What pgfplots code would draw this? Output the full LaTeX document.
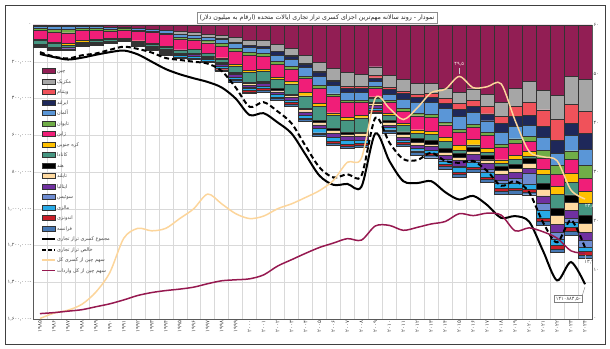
\documentclass[border=0pt]{standalone}
\usepackage{fontspec}
\usepackage{pgfplots}
\usepackage{pgfplotstable}
\pgfplotsset{compat=1.18}
\setmainfont{DejaVu Sans}
\newfontfamily\fa[Script=Arabic]{DejaVu Sans}
\TeXXeTstate=1
\definecolor{cChina}{RGB}{146,30,84}
\definecolor{cMexico}{RGB}{166,166,166}
\definecolor{cVietnam}{RGB}{240,82,90}
\definecolor{cIreland}{RGB}{30,40,90}
\definecolor{cGermany}{RGB}{90,150,215}
\definecolor{cTaiwan}{RGB}{112,173,71}
\definecolor{cJapan}{RGB}{240,30,120}
\definecolor{cKorea}{RGB}{255,192,0}
\definecolor{cCanada}{RGB}{70,150,130}
\definecolor{cIndia}{RGB}{0,0,0}
\definecolor{cThailand}{RGB}{255,218,160}
\definecolor{cItaly}{RGB}{112,48,160}
\definecolor{cSwiss}{RGB}{110,140,210}
\definecolor{cMalaysia}{RGB}{40,170,230}
\definecolor{cIndonesia}{RGB}{200,30,40}
\definecolor{cFrance}{RGB}{70,120,180}
\definecolor{cPeach}{RGB}{252,213,155}
\definecolor{cMaroonL}{RGB}{150,25,80}
\definecolor{cTxt}{RGB}{70,70,70}
\pgfplotsset{
 barleg/.style={legend image code/.code={\draw[##1] (0bp,-2.6bp) rectangle (13bp,2.6bp);}},
 lineleg/.style={legend image code/.code={\draw[##1] (0bp,0bp) -- (13bp,0bp);}},
 basepos/.style={at={(33bp,30bp)}, anchor=south west, scale only axis, width=559bp, height=294bp, xmin=1984.5, xmax=2024.5},
}
% deficits in million dollars (negative), shares in percent
\pgfplotstableread{
yr chn mex vnm irl deu twn jpn kor can ind tha ita che mys idn fra sum net shd shi
1985 -6 -5500 0 0 -12200 -13100 -46200 -4800 -22200 -500 -1000 -5700 0 -1000 -3600 -3900 -158000 -148000 0.1 1.1
1986 -1700 -4900 0 0 -15600 -15700 -55000 -7100 -23300 -700 -900 -6600 0 -1000 -2800 -3400 -175000 -172000 1.2 1.3
1987 -2800 -5700 0 0 -16300 -17200 -56300 -9900 -11700 -1300 -1300 -6700 0 -1300 -2900 -3300 -188000 -182000 1.8 1.6
1988 -3500 -2600 0 0 -12200 -12600 -52100 -8700 -9900 -800 -2200 -5300 0 -2000 -2200 -2800 -178000 -165000 3.0 1.9
1989 -6200 -2200 0 0 -8300 -13000 -49100 -6300 -9600 -600 -2300 -5000 0 -2000 -2300 -1600 -162000 -155000 5.5 2.5
1990 -10400 -1900 0 0 -9400 -11200 -41100 -4100 -7700 -700 -2400 -4600 0 -1700 -1400 -300 -148000 -135000 9.5 3.1
1991 -12700 0 0 0 -4900 -9800 -43400 -1500 -6000 -1000 -3000 -3000 0 -2200 -1900 0 -139000 -118000 16.5 3.9
1992 -18300 0 0 0 -8300 -9300 -49600 -2000 -8000 -1900 -4500 -3900 0 -4400 -2500 0 -160000 -130000 18.5 4.8
1993 -22800 0 0 0 -9400 -8900 -59400 -2300 -10800 -2500 -4800 -6500 0 -6000 -3100 -2000 -200000 -150000 18.0 5.4
1994 -29500 0 0 -400 -12500 -9600 -65700 -1000 -13900 -2900 -5500 -7700 0 -7000 -3700 -2900 -240000 -180000 18.5 5.8
1995 -33800 -15800 0 -700 -15500 -9700 -59100 0 -17100 -2600 -4800 -7600 0 -8900 -3600 -3000 -268000 -190000 20.5 6.1
1996 -39500 -17500 0 -700 -15500 -11500 -47600 0 -21700 -2700 -4600 -9500 0 -9400 -4000 -4000 -290000 -200000 22.5 6.5
1997 -49700 -14500 -100 -1000 -18700 -12300 -56100 0 -16400 -3600 -5500 -10400 0 -7600 -4700 -4400 -310000 -210000 25.5 7.2
1998 -56900 -15900 -300 -2700 -23200 -15000 -64000 -7500 -16600 -4700 -8200 -11500 0 -10000 -7000 -6000 -340000 -250000 23.5 7.8
1999 -68700 -22800 -300 -5400 -28100 -16100 -73400 -8200 -32100 -5400 -9300 -13000 0 -12400 -7600 -6800 -400000 -340000 21.5 8.0
2000 -83800 -24600 -500 -10000 -29100 -16100 -81600 -12500 -51900 -7000 -9800 -14000 -400 -14600 -8000 -9400 -490000 -445000 20.5 8.2
2001 -83100 -30000 -600 -11800 -29000 -15200 -69000 -13000 -53000 -5900 -8700 -13900 0 -13000 -7600 -10500 -480000 -420000 21.0 9.0
2002 -103100 -37200 -1900 -20000 -35900 -13800 -70100 -13000 -49900 -8200 -9900 -14200 -1700 -13700 -7000 -9400 -530000 -470000 22.5 10.8
2003 -124100 -40600 -3300 -18800 -39200 -14200 -66000 -13200 -54900 -8300 -9300 -15500 -700 -14500 -7000 -12200 -590000 -535000 23.5 12.1
2004 -162300 -45100 -3900 -19300 -45800 -12900 -75600 -19800 -66500 -9400 -11200 -17300 0 -17300 -8100 -10800 -705000 -658000 24.8 13.4
2005 -202300 -49700 -5400 -21200 -50600 -13100 -82700 -16100 -78500 -10800 -12400 -19500 -600 -23300 -9000 -11500 -820000 -775000 26.2 14.6
2006 -234100 -64100 -7100 -20600 -47900 -15200 -88400 -13600 -71800 -11600 -14000 -20000 0 -24100 -10100 -13600 -870000 -830000 28.3 15.5
2007 -258500 -74800 -8700 -22500 -44700 -11900 -82800 -13200 -68200 -6900 -13300 -20700 0 -21000 -10400 -14900 -865000 -812000 32.0 16.4
2008 -268000 -64700 -10700 -21100 -43000 -11400 -72300 -13400 -78300 -7600 -13600 -20900 0 -17600 -10400 -14600 -880000 -820000 32.8 16.1
2009 -226900 -47800 -12000 -20300 -28300 -10200 -44700 -10600 -21600 -4400 -11700 -14300 0 -12300 -9500 -7700 -590000 -505000 45.1 19.0
2010 -273000 -66500 -11100 -26400 -34300 -9900 -60100 -10000 -28800 -10300 -13700 -14300 0 -11600 -9600 -11500 -740000 -640000 43.0 19.1
2011 -295300 -65000 -13100 -31400 -49900 -15200 -63200 -13100 -34500 -14500 -14300 -16300 0 -11600 -11100 -12100 -850000 -730000 40.7 18.1
2012 -315100 -61400 -15600 -26500 -59700 -15300 -76300 -16600 -32100 -18700 -14600 -19500 0 -12700 -10500 -11600 -860000 -735000 43.1 18.7
2013 -318700 -54400 -20000 -26800 -67400 -14900 -73400 -20700 -30200 -20000 -14800 -20800 0 -16400 -9700 -13900 -850000 -695000 46.2 19.4
2014 -344800 -53800 -24700 -30500 -73700 -15000 -67000 -25000 -34200 -23100 -15100 -25300 -8500 -17000 -11000 -15600 -910000 -740000 46.9 19.9
2015 -367300 -60200 -31000 -35900 -74200 -15100 -68600 -28300 -15000 -23300 -18700 -28400 -9800 -24000 -12700 -17300 -950000 -750000 49.5 21.5
2016 -346800 -62300 -32000 -35900 -64700 -13300 -68900 -27700 -10900 -24300 -18900 -28600 -13800 -24800 -13100 -15700 -930000 -740000 47.2 21.1
2017 -375200 -69100 -38300 -38100 -63700 -16700 -68800 -22900 -17600 -22900 -20400 -31600 -17200 -24600 -13300 -15700 -980000 -795000 47.4 21.6
2018 -418200 -77700 -39500 -46700 -67900 -15600 -67700 -17900 -19700 -21300 -19300 -31600 -20100 -26500 -12600 -16200 -1050000 -875000 48.0 21.2
2019 -342600 -99400 -55800 -54000 -67200 -23000 -69000 -20900 -26700 -23300 -20000 -33600 -26300 -26900 -12000 -20900 -1040000 -850000 40.5 18.0
2020 -308000 -112700 -69700 -55500 -57300 -29900 -55400 -25100 -12600 -24200 -26500 -30200 -57300 -31300 -12500 -15500 -1070000 -910000 34.2 18.6
2021 -352800 -108300 -90900 -60300 -70100 -40600 -60200 -29500 -49000 -33100 -34400 -40200 -40600 -40800 -17300 -20900 -1230000 -1075000 33.1 17.8
2022 -382300 -130600 -116100 -66500 -67500 -47800 -67900 -43500 -76300 -38400 -48000 -43500 -35400 -36500 -21800 -16600 -1390000 -1183000 32.3 16.5
2023 -279100 -152400 -104600 -65300 -82900 -48300 -71600 -51400 -67900 -43300 -40700 -44000 -24100 -26600 -17800 -22600 -1290000 -1062000 26.3 13.9
2024 -295400 -171800 -123500 -86700 -84800 -73900 -68500 -66000 -63300 -45700 -45600 -44000 -38500 -24800 -17900 -17200 -1410884.5 -1211700 24.5 13.4
}\data
\begin{document}
\begin{tikzpicture}
\useasboundingbox (0bp,0bp) rectangle (610bp,349bp);
\draw[black!75, line width=0.9bp] (5bp,5bp) rectangle (605bp,344bp);
% main axis: stacked bars
\begin{axis}[basepos,
  ymin=-1600000, ymax=0,
  ybar stacked, bar width=1,
  xtick={1985,...,2024},
  xticklabels={۱۹۸۵,۱۹۸۶,۱۹۸۷,۱۹۸۸,۱۹۸۹,۱۹۹۰,۱۹۹۱,۱۹۹۲,۱۹۹۳,۱۹۹۴,۱۹۹۵,۱۹۹۶,۱۹۹۷,۱۹۹۸,۱۹۹۹,۲۰۰۰,۲۰۰۱,۲۰۰۲,۲۰۰۳,۲۰۰۴,۲۰۰۵,۲۰۰۶,۲۰۰۷,۲۰۰۸,۲۰۰۹,۲۰۱۰,۲۰۱۱,۲۰۱۲,۲۰۱۳,۲۰۱۴,۲۰۱۵,۲۰۱۶,۲۰۱۷,۲۰۱۸,۲۰۱۹,۲۰۲۰,۲۰۲۱,۲۰۲۲,۲۰۲۳,۲۰۲۴},
  xticklabel style={font=\fa\fontsize{5.5}{6}\selectfont, text=cTxt, rotate=90, anchor=east, inner sep=1.5bp},
  minor xtick={1985.5,1986.5,...,2023.5},
  xminorgrids, minor x grid style={black!15, line width=0.4bp},
  ytick={-1600000,-1400000,-1200000,-1000000,-800000,-600000,-400000,-200000,0},
  yticklabels={{-۱,۶۰۰,۰۰۰},{-۱,۴۰۰,۰۰۰},{-۱,۲۰۰,۰۰۰},{-۱,۰۰۰,۰۰۰},{-۸۰۰,۰۰۰},{-۶۰۰,۰۰۰},{-۴۰۰,۰۰۰},{-۲۰۰,۰۰۰},{۰}},
  yticklabel style={font=\fa\fontsize{5}{6}\selectfont, text=cTxt, inner sep=1.5bp},
  scaled y ticks=false,
  ymajorgrids, major grid style={black!15, line width=0.4bp},
  major tick length=0pt, minor tick length=0pt,
  axis line style={black!65, line width=0.6bp},
  legend cell align=left,
  legend style={at={(rel axis cs:0.014,0.856)}, anchor=north west, draw=none, fill=none,
    font=\fa\fontsize{5}{6}\selectfont, text=cTxt, row sep=3.5bp, inner sep=0pt,
    nodes={text height=4bp, text depth=1bp, inner sep=1bp}},
  every axis plot/.append style={draw=black!80, line width=0.35bp},
]
\addplot[fill=cChina, barleg] table[x=yr,y=chn]{\data}; \addlegendentry{\beginR چین\endR}
\addplot[fill=cMexico, barleg] table[x=yr,y=mex]{\data}; \addlegendentry{\beginR مکزیک\endR}
\addplot[fill=cVietnam, barleg] table[x=yr,y=vnm]{\data}; \addlegendentry{\beginR ویتنام\endR}
\addplot[fill=cIreland, barleg] table[x=yr,y=irl]{\data}; \addlegendentry{\beginR ایرلند\endR}
\addplot[fill=cGermany, barleg] table[x=yr,y=deu]{\data}; \addlegendentry{\beginR آلمان\endR}
\addplot[fill=cTaiwan, barleg] table[x=yr,y=twn]{\data}; \addlegendentry{\beginR تایوان\endR}
\addplot[fill=cJapan, barleg] table[x=yr,y=jpn]{\data}; \addlegendentry{\beginR ژاپن\endR}
\addplot[fill=cKorea, barleg] table[x=yr,y=kor]{\data}; \addlegendentry{\beginR کره جنوبی\endR}
\addplot[fill=cCanada, barleg] table[x=yr,y=can]{\data}; \addlegendentry{\beginR کانادا\endR}
\addplot[fill=cIndia, barleg] table[x=yr,y=ind]{\data}; \addlegendentry{\beginR هند\endR}
\addplot[fill=cThailand, barleg] table[x=yr,y=tha]{\data}; \addlegendentry{\beginR تایلند\endR}
\addplot[fill=cItaly, barleg] table[x=yr,y=ita]{\data}; \addlegendentry{\beginR ایتالیا\endR}
\addplot[fill=cSwiss, barleg] table[x=yr,y=che]{\data}; \addlegendentry{\beginR سوئیس\endR}
\addplot[fill=cMalaysia, barleg] table[x=yr,y=mys]{\data}; \addlegendentry{\beginR مالزی\endR}
\addplot[fill=cIndonesia, barleg] table[x=yr,y=idn]{\data}; \addlegendentry{\beginR اندونزی\endR}
\addplot[fill=cFrance, barleg] table[x=yr,y=fra]{\data}; \addlegendentry{\beginR فرانسه\endR}
\addlegendimage{lineleg, black, line width=2bp}
\addlegendentry{\beginR مجموع کسری تراز تجاری\endR}
\addlegendimage{lineleg, black, line width=2bp, dash pattern=on 4bp off 2bp}
\addlegendentry{\beginR خالص تراز تجاری\endR}
\addlegendimage{lineleg, cPeach, line width=1.5bp}
\addlegendentry{\beginR سهم چین از کسری کل\endR}
\addlegendimage{lineleg, cMaroonL, line width=1.5bp}
\addlegendentry{\beginR سهم چین از کل واردات\endR}
\end{axis}
% black lines
\begin{axis}[basepos, ymin=-1600000, ymax=0, hide axis]
\addplot[black, line width=2bp, smooth, tension=0.5] table[x=yr,y=sum]{\data};
\addplot[black, line width=2bp, smooth, tension=0.5, dash pattern=on 5bp off 3bp] table[x=yr,y=net]{\data};
\node[draw=black!50, fill=white, inner sep=1.5bp, font=\fa\fontsize{5}{6}\selectfont, text=cTxt] (lbl) at (axis cs:2022.8,-1490000) {-۱۴۱۰۸۸۴,۵};
\draw[black!50, line width=0.4bp] (lbl.north east) -- (axis cs:2024,-1425000);
\end{axis}
% right axis: shares
\begin{axis}[basepos, ymin=0, ymax=60, axis y line*=right, axis x line=none,
  ytick={0,10,...,60}, yticklabels={۰,۱۰,۲۰,۳۰,۴۰,۵۰,۶۰},
  yticklabel style={font=\fa\fontsize{5}{6}\selectfont, text=cTxt, inner sep=1.5bp},
  major tick length=0pt, axis line style={black!65, line width=0.6bp}]
\addplot[cPeach, line width=1.5bp, smooth, tension=0.5] table[x=yr,y=shd]{\data};
\addplot[cMaroonL, line width=1.5bp, smooth, tension=0.5] table[x=yr,y=shi]{\data};
\draw[black!20, line width=0.4bp] (axis cs:2015,49.9) -- (axis cs:2015,51.3);
\node[anchor=south, inner sep=1bp, font=\fa\fontsize{5}{6}\selectfont, text=pink!40] at (axis cs:2015,51.3) {۴۹,۵};
\node[inner sep=1bp, font=\fa\fontsize{5}{6}\selectfont, text=white] at (axis cs:2024.35,23) {۲۴,۵};
\draw[black!30, line width=0.4bp] (axis cs:2024,13.1) -- (axis cs:2024,12.3);
\node[anchor=north, inner sep=1bp, font=\fa\fontsize{5}{6}\selectfont, text=cTxt] at (axis cs:2024.3,12.3) {۱۳,۴};
\end{axis}
\node[draw=black!45, fill=white, inner sep=2.5bp, font=\fa\fontsize{6.3}{7}\selectfont, text=black!85] at (317bp,331bp) {\beginR نمودار - روند سالانه مهم‌ترین اجزای کسری تراز تجاری ایالات متحده (ارقام به میلیون دلار)\endR};
\end{tikzpicture}
\end{document}
